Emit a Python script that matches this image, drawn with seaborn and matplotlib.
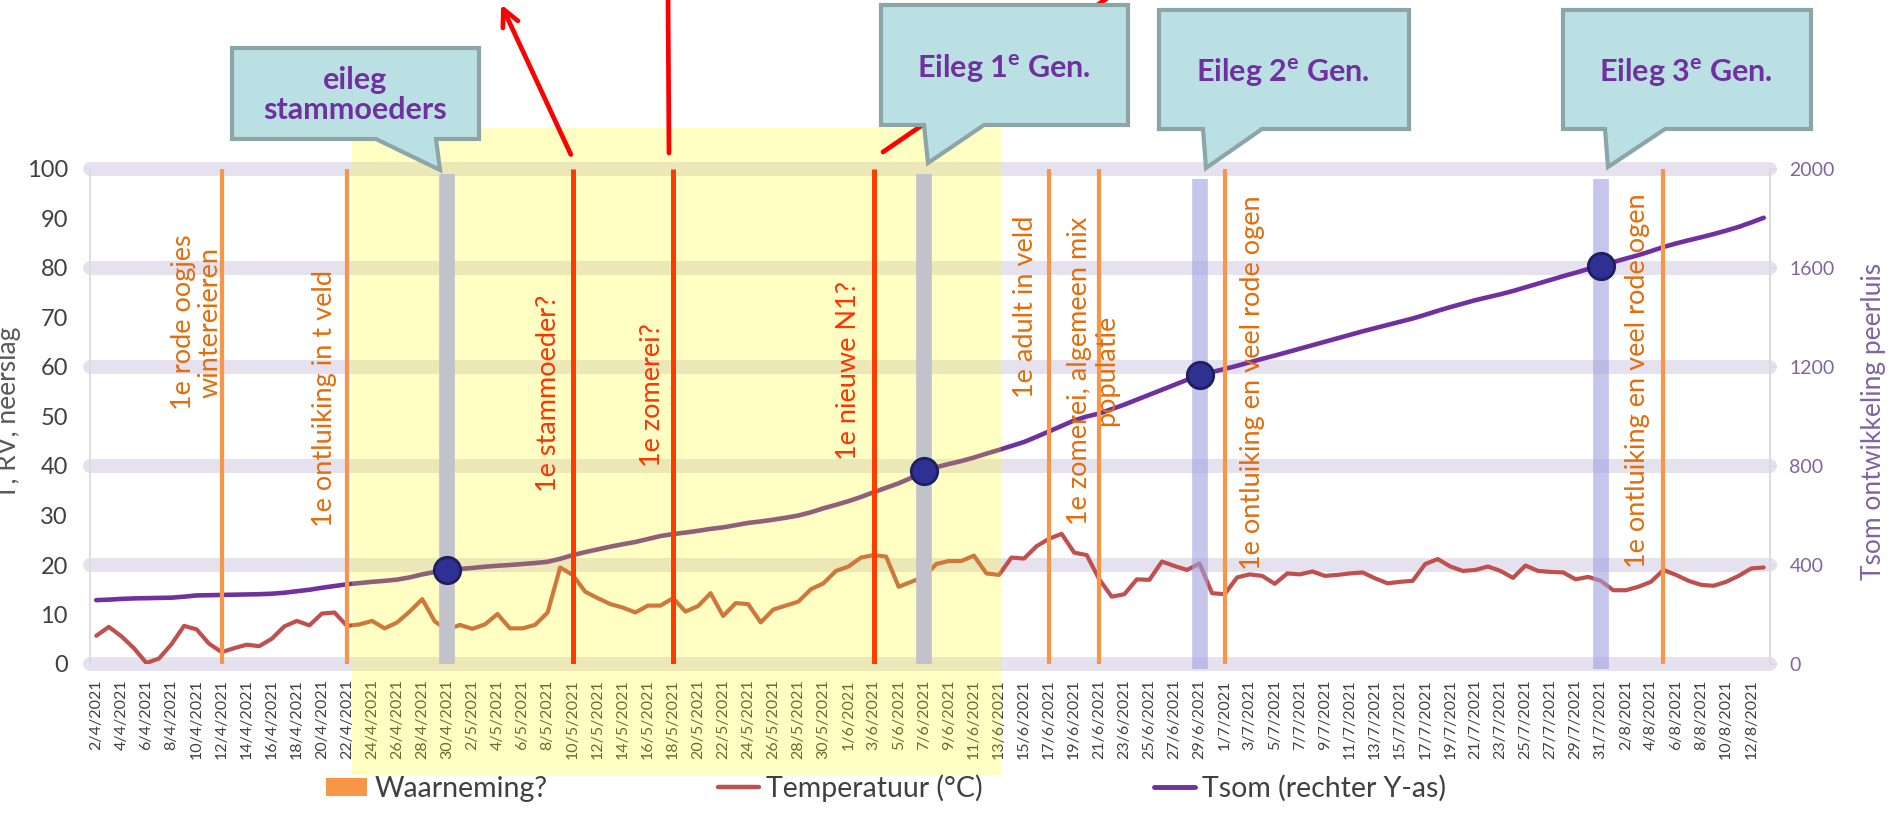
import matplotlib
matplotlib.use('Agg')
import matplotlib.pyplot as plt
import matplotlib.transforms as mtransforms
from matplotlib.patches import Polygon, Rectangle, Patch, FancyArrowPatch
from matplotlib.lines import Line2D
import seaborn as sns
import pandas as pd
import numpy as np

# ---------- data ----------
dates = pd.date_range('2021-04-02', '2021-08-13', freq='D')
date_labels = [f'{d.day}/{d.month}/{d.year}' for d in dates]

temperatuur = [
    5.7, 7.5, 5.6, 3.2, 0.2, 1.1, 4.0, 7.7, 7.0, 4.1,
    2.4, 3.2, 3.9, 3.6, 5.1, 7.6, 8.7, 7.8, 10.2, 10.4,
    7.7, 8.0, 8.7, 7.2, 8.4, 10.6, 13.1, 8.6, 6.9, 7.9,
    7.1, 8.0, 10.1, 7.2, 7.2, 7.9, 10.4, 19.5, 18.0, 14.6,
    13.3, 12.1, 11.4, 10.4, 11.8, 11.8, 13.3, 10.6, 11.7, 14.3,
    9.7, 12.3, 12.1, 8.4, 11.0, 11.8, 12.6, 15.1, 16.3, 18.8,
    19.7, 21.5, 22.0, 21.7, 15.6, 16.6, 17.6, 20.2, 20.8, 20.8,
    21.9, 18.3, 18.0, 21.5, 21.3, 23.8, 25.3, 26.3, 22.5, 22.0,
    17.1, 13.6, 14.1, 17.1, 17.0, 20.7, 19.8, 19.0, 20.3, 14.3,
    14.1, 17.5, 18.1, 17.8, 16.2, 18.3, 18.1, 18.7, 17.8, 18.0,
    18.3, 18.5, 17.3, 16.3, 16.6, 16.8, 20.2, 21.2, 19.7, 18.8,
    19.0, 19.7, 18.8, 17.4, 19.9, 18.8, 18.6, 18.5, 17.1, 17.6,
    16.8, 14.9, 14.9, 15.6, 16.6, 19.0, 18.0, 16.8, 16.0, 15.8,
    16.6, 17.8, 19.3, 19.5,
]

tsom = [
    258, 260, 263, 265, 266, 267, 268, 272, 277, 278,
    279, 280, 281, 282, 284, 288, 294, 300, 308, 315,
    322, 327, 332, 336, 341, 350, 362, 372, 380, 384,
    388, 393, 397, 400, 404, 408, 413, 425, 440, 452,
    463, 474, 484, 493, 505, 517, 525, 531, 538, 546,
    552, 561, 570, 576, 583, 591, 600, 613, 629, 643,
    658, 675, 694, 712, 730, 752, 778, 795, 808, 820,
    834, 850, 865, 881, 897, 918, 940, 962, 984, 1000,
    1012, 1030, 1048, 1068, 1088, 1108, 1128, 1148, 1168, 1180,
    1192, 1205, 1219, 1233, 1246, 1260, 1274, 1288, 1302, 1316,
    1330, 1344, 1357, 1370, 1383, 1396, 1411, 1427, 1442, 1456,
    1470, 1482, 1494, 1507, 1522, 1537, 1552, 1567, 1581, 1596,
    1610, 1624, 1638, 1652, 1668, 1685, 1699, 1712, 1724, 1737,
    1751, 1766, 1784, 1803,
]

# observations (index into dates)
waarneming_idx = [10, 20, 76, 80, 90, 125]
nieuw_idx = [38, 46, 62]
eileg_grijs_idx = [28, 66]
eileg_blauw_idx = [88, 120]

obs_labels = [
    (8.0, 51.3, '1e rode oogjes\nwintereieren', '#E46C0A'),
    (18.2, 27.7, '1e ontluiking in t veld', '#E46C0A'),
    (36.1, 34.7, '1e stammoeder?', '#FF3300'),
    (44.4, 39.8, '1e zomerei?', '#FF3300'),
    (60.0, 41.2, '1e nieuwe N1?', '#FF3300'),
    (74.1, 53.7, '1e adult in veld', '#E46C0A'),
    (79.5, 28.1, '1e zomerei, algemeen mix\npopulatie', '#E46C0A'),
    (92.2, 19.0, '1e ontluiking en veel rode ogen', '#E46C0A'),
    (122.9, 19.4, '1e ontluiking en veel rode ogen', '#E46C0A'),
]

idx = np.arange(len(dates))
W, H = 1893, 815

sns.set_theme(style='white')
plt.rcParams['font.family'] = ['Lato', 'DejaVu Sans']
plt.rcParams['mathtext.fontset'] = 'custom'
plt.rcParams['mathtext.rm'] = 'Lato:bold'
plt.rcParams['mathtext.it'] = 'Lato:bold'
plt.rcParams['mathtext.bf'] = 'Lato:bold'

fig = plt.figure(figsize=(W / 100, H / 100), dpi=100)
ax = fig.add_axes([90 / W, 1 - 664 / H, 1680 / W, 495 / H])
ax2 = ax.twinx()

# grid bands
for v in range(0, 101, 20):
    ax.axhline(v, color='#E6E1EE', lw=10, zorder=0.5, clip_on=False)

sns.lineplot(x=idx, y=temperatuur, ax=ax, color='#C0504D', lw=3, zorder=2)
sns.lineplot(x=idx, y=tsom, ax=ax2, color='#7030A0', lw=3.3, zorder=2)

ax.set_xlim(-0.5, len(dates) - 0.5)
ax.set_ylim(0, 100)
ax2.set_ylim(0, 2000)

ax.set_xticks(idx[::2])
ax.set_xticklabels(date_labels[::2], rotation=90, fontsize=11.5, color='#404040')
ax.set_yticks(range(0, 101, 10))
ax.tick_params(axis='y', labelsize=17, labelcolor='#404040', length=0, pad=16)
ax.tick_params(axis='x', length=0, pad=11)
ax2.set_yticks(range(0, 2001, 400))
ax2.tick_params(axis='y', labelsize=14, labelcolor='#8064A2', length=5,
                color='#D9D9D9', width=1.2, pad=9)
ax.set_xlabel('')
ax.set_ylabel('')
ax2.set_ylabel('')

for a in (ax, ax2):
    for s in ('top', 'bottom'):
        a.spines[s].set_visible(False)
ax.spines['right'].set_visible(False)
ax2.spines['left'].set_visible(False)
ax.spines['left'].set_color('#D9D9D9')
ax2.spines['right'].set_color('#D9D9D9')
ax2.spines['right'].set_linewidth(1.3)

# yellow transparent area (over lines and tick labels)
blend = mtransforms.blended_transform_factory(ax2.transData, fig.transFigure)
ax2.add_patch(Rectangle((20.4, 1 - 775 / H), 72.2 - 20.4, (775 - 128) / H,
                        transform=blend, facecolor=(1, 1, 0), alpha=0.23,
                        edgecolor='none', zorder=3, clip_on=False))

xt = ax2.get_xaxis_transform()
ax2.vlines(eileg_grijs_idx, 0, 0.99, transform=xt, color='#C2C2CA', lw=11.3, zorder=4)
ax2.vlines(eileg_blauw_idx, -0.01, 0.98, transform=xt, color=(160 / 255, 160 / 255, 225 / 255),
           alpha=0.6, lw=11.3, zorder=4, clip_on=False)
ax2.vlines(waarneming_idx, 0, 1, transform=xt, color='#F79646', lw=3, zorder=5)
ax2.vlines(nieuw_idx, 0, 1, transform=xt, color='#FF3C00', lw=3.6, zorder=5)

eileg_idx = sorted(eileg_grijs_idx + eileg_blauw_idx)
ax2.plot(eileg_idx, [tsom[i] for i in eileg_idx], 'o', ms=19, mfc='#2E3192',
         mec='#1F1F5F', mew=2, zorder=7)

for x, y, s, c in obs_labels:
    ax2.text(x, y, s, transform=ax.transData, rotation=90, ha='center', va='bottom',
             multialignment='center', fontsize=19.5, color=c, zorder=6, linespacing=1.1)

# red arrows at the top
def fp(x, y):
    return (x / W, 1 - y / H)

fig.add_artist(FancyArrowPatch(fp(572, 157), fp(500, 2), transform=fig.transFigure,
                               arrowstyle='->', mutation_scale=30, color='#FF0000', lw=3.4, zorder=15))
fig.add_artist(Line2D([669 / W, 668 / W], [1 - 153 / H, 1 + 5 / H], transform=fig.transFigure,
                      color='#FF0000', lw=3.4, zorder=15))
fig.add_artist(Line2D([883 / W, 1112 / W], [1 - 152 / H, 1 + 5 / H], transform=fig.transFigure,
                      color='#FF0000', lw=3.4, zorder=15))

# callouts
def callout(x0, y0, x1, y1, bl, br, tx, ty, text, cx, cy):
    pts = [(x0, y0), (x1, y0), (x1, y1), (br, y1), (tx, ty), (bl, y1), (x0, y1)]
    fig.add_artist(Polygon([fp(*p) for p in pts], closed=True, transform=fig.transFigure,
                           facecolor='#BBE0E3', edgecolor='#8CA6A8', lw=3, zorder=20,
                           joinstyle='miter'))
    fig.text(cx / W, 1 - cy / H, text, ha='center', va='center', fontsize=22,
             fontweight='bold', color='#7030A0', zorder=21, linespacing=1.05)

callout(232, 48, 479, 139, 376, 436, 440, 170, 'eileg\nstammoeders', 355, 95)
callout(881, 5, 1128, 125, 924, 984, 928, 163, r'Eileg 1$^{\mathrm{e}}$ Gen.', 1004, 68)
callout(1159, 10, 1409, 129, 1203, 1262, 1206, 168, r'Eileg 2$^{\mathrm{e}}$ Gen.', 1283, 72)
callout(1563, 10, 1811, 129, 1605, 1665, 1608, 167, r'Eileg 3$^{\mathrm{e}}$ Gen.', 1686, 72)

# axis titles
fig.text(9 / W, 1 - 413 / H, 'T, RV, neerslag', rotation=90, ha='center', va='center',
         fontsize=19, color='#595959')
fig.text(1873 / W, 1 - 421 / H, 'Tsom ontwikkeling peerluis', rotation=90, ha='center',
         va='center', fontsize=19, color='#8064A2')

# legend
handles = [Patch(facecolor='#F79646', edgecolor='none'),
           Line2D([], [], color='#C0504D', lw=3.2),
           Line2D([], [], color='#7030A0', lw=3.5)]
fig.legend(handles, ['Waarneming?', 'Temperatuur (°C)', 'Tsom (rechter Y-as)'],
           loc='center', bbox_to_anchor=(886 / W, 1 - 788 / H), ncol=3, frameon=False,
           fontsize=20.5, handlelength=1.45, handletextpad=0.25, columnspacing=6.0,
           handleheight=0.6, labelcolor='#404040')

plt.savefig('out.png', dpi=100)
plt.close()
